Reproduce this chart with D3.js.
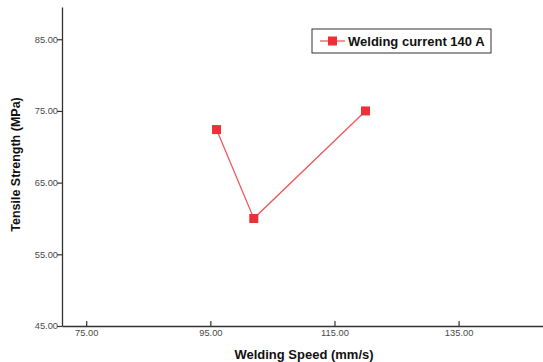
<!DOCTYPE html>
<html>
<head>
<meta charset="utf-8">
<script src="https://cdn.jsdelivr.net/npm/d3@7"></script>
<style>
  html, body { margin: 0; padding: 0; background: #fff; }
  svg { display: block; font-family: "Liberation Sans", Arial, sans-serif; }
</style>
</head>
<body>
<svg id="chart" width="543" height="362"></svg>
<script>
// Tensile strength vs. welding speed at 140 A
const speeds = [96, 102, 120];
const strengths = [72.4, 60.0, 75.0];
const xTicks = [75, 95, 115, 135];
const yTicks = [45, 55, 65, 75, 85];
const seriesName = "Welding current 140 A";

(function () {
  const svg = d3.select("#chart");
  const plotLeft = 62, plotRight = 543, plotTop = 7, plotBottom = 326;

  const x = d3.scaleLinear().domain([71.1, 148.6]).range([plotLeft, plotRight]);
  const y = d3.scaleLinear().domain([45, 89.5]).range([plotBottom, plotTop]);

  const red = "#ec3038";
  const lineRed = "#f0585c";

  // axes
  const xAxis = svg.append("g").attr("transform", `translate(0,${plotBottom})`)
    .call(d3.axisBottom(x).tickValues(xTicks).tickFormat(d3.format(".2f")).tickSize(5).tickSizeOuter(0));
  const yAxis = svg.append("g").attr("transform", `translate(${plotLeft},0)`)
    .call(d3.axisLeft(y).tickValues(yTicks).tickFormat(d3.format(".2f")).tickSize(5).tickSizeOuter(0));

  [xAxis, yAxis].forEach(a => {
    a.select(".domain").attr("stroke", "#333").attr("stroke-width", 1.3);
    a.selectAll(".tick line").attr("stroke", "#333").attr("stroke-width", 1.2);
    a.selectAll(".tick text").attr("fill", "#4a4a4a").attr("font-size", 9.3)
      .attr("font-family", "'Liberation Sans', Arial, sans-serif");
  });
  xAxis.selectAll(".tick line").attr("y2", -5);
  xAxis.selectAll(".tick text").attr("dy", "0.9em").attr("y", 2);
  yAxis.selectAll(".tick text").attr("x", -4);

  // axis titles
  svg.append("text")
    .attr("x", 304).attr("y", 359)
    .attr("text-anchor", "middle")
    .attr("font-size", 13).attr("font-weight", "bold").attr("fill", "#111")
    .text("Welding Speed (mm/s)");
  svg.append("text")
    .attr("transform", `translate(20,164.5) rotate(-90)`)
    .attr("text-anchor", "middle")
    .attr("font-size", 12.5).attr("font-weight", "bold").attr("fill", "#111")
    .text("Tensile Strength (MPa)");

  // series
  const pts = speeds.map((s, i) => [s, strengths[i]]);
  svg.append("path")
    .datum(pts)
    .attr("fill", "none")
    .attr("stroke", lineRed)
    .attr("stroke-width", 1.3)
    .attr("d", d3.line().x(d => x(d[0])).y(d => y(d[1])));

  const m = 9;
  svg.selectAll("rect.pt").data(pts).enter().append("rect")
    .attr("class", "pt")
    .attr("x", d => x(d[0]) - m / 2)
    .attr("y", d => y(d[1]) - m / 2)
    .attr("width", m).attr("height", m)
    .attr("fill", red);

  // legend
  const lg = svg.append("g").attr("transform", "translate(312,29)");
  lg.append("rect").attr("width", 179).attr("height", 24)
    .attr("fill", "#fff").attr("stroke", "#333").attr("stroke-width", 1);
  lg.append("line").attr("x1", 8).attr("x2", 33).attr("y1", 12).attr("y2", 12)
    .attr("stroke", lineRed).attr("stroke-width", 1.3);
  lg.append("rect").attr("x", 16).attr("y", 7.5).attr("width", m).attr("height", m).attr("fill", red);
  lg.append("text").attr("x", 36).attr("y", 16.5)
    .attr("font-size", 13).attr("font-weight", "bold").attr("fill", "#111")
    .text(seriesName);
})();
</script>
</body>
</html>
